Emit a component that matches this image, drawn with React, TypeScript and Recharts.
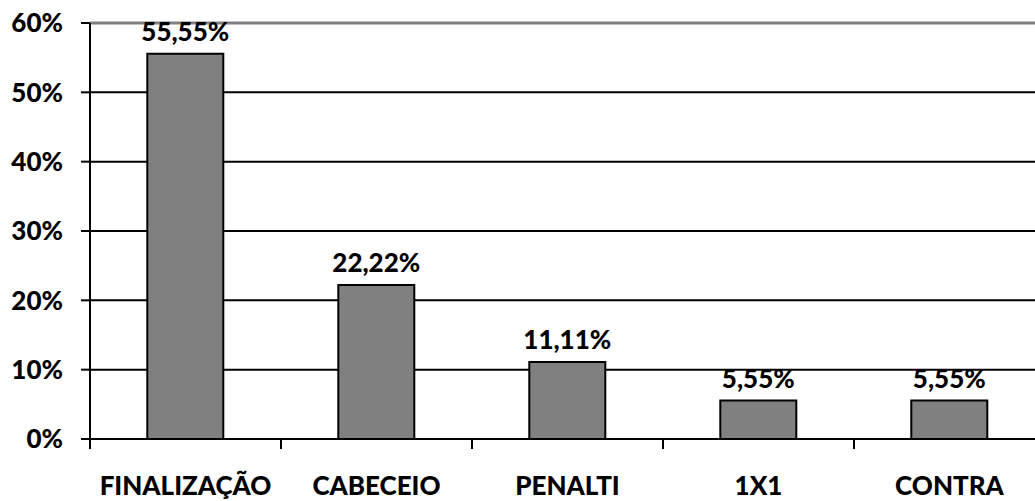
import React from "react";
import {
  BarChart,
  Bar,
  XAxis,
  YAxis,
  CartesianGrid,
  ReferenceLine,
  LabelList,
} from "recharts";

const categories = ["FINALIZAÇÃO", "CABECEIO", "PENALTI", "1X1", "CONTRA"];
const percentages = [55.55, 22.22, 11.11, 5.55, 5.55];
const yTicks = [0, 10, 20, 30, 40, 50, 60];

const data = categories.map((name, i) => ({ name, value: percentages[i] }));

const font = "Lato, 'Liberation Sans', sans-serif";
const textStyle = { fontFamily: font, fontWeight: 900, fill: "#000" };

function formatValue(v: number): string {
  return v.toFixed(2).replace(".", ",") + "%";
}

// category label plus the small tick marks on the category boundaries
function CategoryTick(props: any) {
  const { x, y, payload, index, visibleTicksCount } = props;
  const half = payload.offset ?? 0;
  const axisY = y - 6 - 32;
  const isLast = index === (visibleTicksCount ?? categories.length) - 1;
  return (
    <g>
      <line x1={x - half} x2={x - half} y1={axisY} y2={axisY + 10} stroke="#000" strokeWidth={2} />
      {isLast && (
        <line x1={x + half} x2={x + half} y1={axisY} y2={axisY + 10} stroke="#000" strokeWidth={2} />
      )}
      <text x={x} y={y} dy="0.71em" textAnchor="middle" style={{ ...textStyle, fontSize: 26 }}>
        {payload.value}
      </text>
    </g>
  );
}

export default function App() {
  return (
    <div
      style={{
        position: "absolute",
        left: 0,
        top: 0,
        width: 1035,
        height: 501,
        overflow: "hidden",
        background: "#fff",
      }}
    >
      <BarChart
        width={1045}
        height={501}
        data={data}
        margin={{ top: 23, right: 0, bottom: 0, left: 0 }}
        barCategoryGap="30%"
      >
        <CartesianGrid vertical={false} stroke="#000" strokeWidth={2} />
        <XAxis
          dataKey="name"
          tickLine={false}
          axisLine={{ stroke: "#000", strokeWidth: 2 }}
          tickSize={6}
          tickMargin={32}
          height={62}
          tick={<CategoryTick />}
          interval={0}
        />
        <YAxis
          domain={[0, 60]}
          ticks={yTicks}
          width={90}
          tickFormatter={(v: number) => `${v}%`}
          tickLine={{ stroke: "#000", strokeWidth: 2 }}
          tickSize={9}
          tickMargin={18}
          axisLine={{ stroke: "#000", strokeWidth: 2 }}
          tick={{ ...textStyle, fontSize: 26 }}
        />
        <ReferenceLine y={60} stroke="#808080" strokeWidth={3} />
        <Bar
          dataKey="value"
          fill="#808080"
          stroke="#000"
          strokeWidth={2}
          isAnimationActive={false}
        >
          <LabelList
            dataKey="value"
            position="top"
            offset={13}
            formatter={(v: number) => formatValue(v)}
            style={{ ...textStyle, fontSize: 26 }}
          />
        </Bar>
      </BarChart>
    </div>
  );
}
